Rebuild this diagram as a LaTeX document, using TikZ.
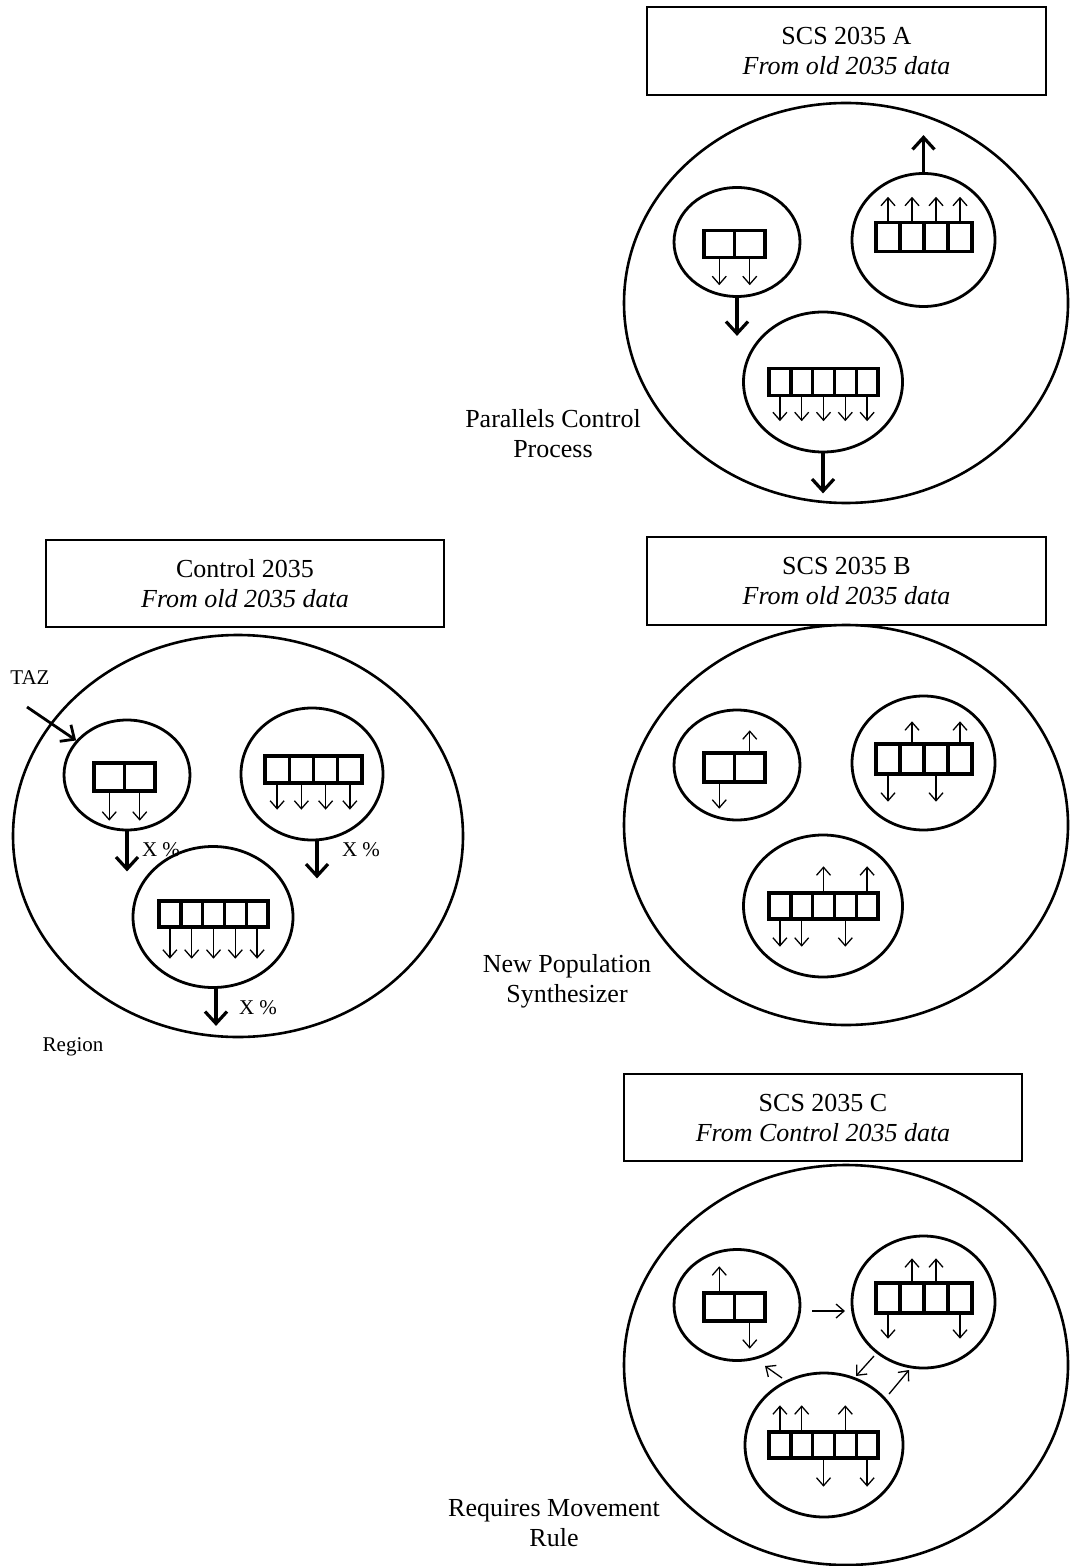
\documentclass[tikz,border=0pt]{standalone}
\usepackage{fontspec}
\setmainfont{Liberation Serif}
\usetikzlibrary{shapes.geometric,arrows.meta}
\newcommand\bigtxt{\fontsize{13}{15}\selectfont}
\newcommand\smalltxt{\fontsize{10.5}{12}\selectfont}
% name, left x, center y, n, cell width (px), cell height (px)
\newcommand\cellrow[6]{%
  \foreach \i in {1,...,#4}{%
    \node[cell, minimum width={#5*0.5pt}, minimum height={#6*0.5pt}] (#1\i) at ({#2+(\i-0.5)*#5},#3) {};
  }}
\begin{document}
\begin{tikzpicture}[x=0.5pt,y=-0.5pt,
  outer/.style={ellipse, draw, line width=1.3pt, inner sep=0pt},
  zone/.style={ellipse, draw, line width=1.4pt, inner sep=0pt},
  cell/.style={rectangle, draw, line width=1.7pt, inner sep=0pt},
  hdr/.style={rectangle, draw, line width=0.8pt, minimum width=199.5pt, minimum height=44pt, align=center, font=\bigtxt, inner sep=0pt},
  lbl/.style={align=center, font=\bigtxt, inner sep=0pt},
  slbl/.style={font=\smalltxt, inner sep=0pt},
  thinarr/.style={line width=0.65pt, -{Straight Barb[length=4pt,width=7pt]}},
  thickarr/.style={line width=1.6pt, -{Straight Barb[length=6pt,width=11pt]}}]
\useasboundingbox (0,0) rectangle (1069,1566);

% ===================== SCS 2035 A =====================
\node[hdr] (hA) at (846.5,51) {SCS 2035 A\\\textit{From old 2035 data}};
\node[outer, minimum width=222pt, minimum height=200pt] (oA) at (846,303) {};
\node[zone, minimum width=63pt, minimum height=54.5pt] (A1) at (737,242) {};
\node[zone, minimum width=71.5pt, minimum height=66.5pt] (A2) at (923.5,240) {};
\node[zone, minimum width=79.5pt, minimum height=70pt] (A3) at (823,382) {};
\cellrow{Aa}{704}{244}{2}{30.5}{27}
\cellrow{Ab}{876}{237}{4}{24}{29}
\cellrow{Ac}{769}{382}{5}{21.8}{27}
\foreach \i in {1,2} \draw[thinarr] (Aa\i.south) -- ++(0,26);
\foreach \i in {1,...,4} \draw[thinarr] (Ab\i.north) -- ++(0,-24);
\foreach \i in {1,...,5} \draw[thinarr] (Ac\i.south) -- ++(0,24);
\draw[thickarr] (A1.south) -- ++(0,38);
\draw[thickarr] (A2.north) -- ++(0,-37);
\draw[thickarr] (A3.south) -- ++(0,40);
\node[lbl] (pA) at (553,434) {Parallels Control\\Process};

% ===================== Control 2035 =====================
\node[hdr, minimum width=199pt, minimum height=43.5pt] (hC) at (245,583.5) {Control 2035\\\textit{From old 2035 data}};
\node[outer, minimum width=225pt, minimum height=201pt] (oC) at (238,836) {};
\node[zone, minimum width=63pt, minimum height=55pt] (K1) at (127,775) {};
\node[zone, minimum width=71pt, minimum height=66pt] (K2) at (312,774) {};
\node[zone, minimum width=80pt, minimum height=70.5pt] (K3) at (213,917) {};
\cellrow{Ka}{94}{777}{2}{30.5}{28}
\cellrow{Kb}{265}{769.5}{4}{24.25}{27}
\cellrow{Kc}{159}{914}{5}{21.8}{26}
\foreach \i in {1,2} \draw[thinarr] (Ka\i.south) -- ++(0,28);
\foreach \i in {1,...,4} \draw[thinarr] (Kb\i.south) -- ++(0,25);
\foreach \i in {1,...,5} \draw[thinarr] (Kc\i.south) -- ++(0,30);
\draw[thickarr] (K1.south) -- ++(0,40) coordinate (k1e);
\draw[thickarr] (K2.south) ++(5,0) -- ++(0,37) coordinate (k2e);
\draw[thickarr] (K3.south) ++(3,0) -- ++(0,37) coordinate (k3e);
\node[slbl] (x1) at (161,850) {X \%};
\node[slbl] (x2) at (361,850) {X \%};
\node[slbl] (x3) at (258,1008) {X \%};
\node[slbl] (taz) at (30,678) {TAZ};
\coordinate (tazs) at (27,707);
\draw[line width=1.4pt, -{Straight Barb[length=5.5pt,width=10pt]}] (tazs) -- (K1);
\node[slbl] (reg) at (73,1047) {Region};

% ===================== SCS 2035 B =====================
\node[hdr] (hB) at (846.5,581) {SCS 2035 B\\\textit{From old 2035 data}};
\node[outer, minimum width=222pt, minimum height=200pt] (oB) at (846,825) {};
\node[zone, minimum width=63pt, minimum height=55pt] (B1) at (737,765) {};
\node[zone, minimum width=71.5pt, minimum height=67pt] (B2) at (923.5,763) {};
\node[zone, minimum width=79.5pt, minimum height=71pt] (B3) at (823,906) {};
\cellrow{Ba}{704}{767.5}{2}{30.5}{29}
\cellrow{Bb}{876}{759}{4}{24}{30}
\cellrow{Bc}{769}{906}{5}{21.8}{26}
\draw[thinarr] (Ba2.north) -- ++(0,-21);
\draw[thinarr] (Ba1.south) -- ++(0,25);
\foreach \i in {2,4} \draw[thinarr] (Bb\i.north) -- ++(0,-21);
\foreach \i in {1,3} \draw[thinarr] (Bb\i.south) -- ++(0,26);
\foreach \i in {3,5} \draw[thinarr] (Bc\i.north) -- ++(0,-25);
\foreach \i in {1,2,4} \draw[thinarr] (Bc\i.south) -- ++(0,26);
\node[lbl] (pB) at (567,981) {New Population\\Synthesizer};

% ===================== SCS 2035 C =====================
\node[hdr, minimum width=199pt, minimum height=43.5pt] (hCC) at (823,1117.5) {SCS 2035 C\\\textit{From Control 2035 data}};
\node[outer, minimum width=222pt, minimum height=200pt] (oCC) at (846,1365) {};
\node[zone, minimum width=63pt, minimum height=55.5pt] (C1) at (737,1305) {};
\node[zone, minimum width=71.5pt, minimum height=66pt] (C2) at (923.5,1302) {};
\node[zone, minimum width=79pt, minimum height=72pt] (C3) at (824,1445) {};
\cellrow{Ca}{704}{1307}{2}{30.5}{28}
\cellrow{Cb}{876}{1298}{4}{24}{30}
\cellrow{Cc}{769}{1445}{5}{21.8}{26}
\draw[thinarr] (Ca1.north) -- ++(0,-25);
\draw[thinarr] (Ca2.south) -- ++(0,26);
\foreach \i in {2,3} \draw[thinarr] (Cb\i.north) -- ++(0,-23);
\foreach \i in {1,4} \draw[thinarr] (Cb\i.south) -- ++(0,24);
\foreach \i in {1,2,4} \draw[thinarr] (Cc\i.north) -- ++(0,-25);
\foreach \i in {3,5} \draw[thinarr] (Cc\i.south) -- ++(0,27);
% movement arrows
\coordinate (m1s) at (812,1311); \coordinate (m1e) at (845,1311);
\coordinate (m2s) at (874,1356); \coordinate (m2e) at (856,1376);
\coordinate (m3s) at (782,1378); \coordinate (m3e) at (765,1366);
\coordinate (m4s) at (889,1394); \coordinate (m4e) at (909,1370);
\draw[thinarr] (m1s) -- (m1e);
\draw[thinarr] (m2s) -- (m2e);
\draw[thinarr] (m3s) -- (m3e);
\draw[thinarr] (m4s) -- (m4e);
\node[lbl] (pC) at (554,1523) {Requires Movement\\Rule};
\end{tikzpicture}
\end{document}
